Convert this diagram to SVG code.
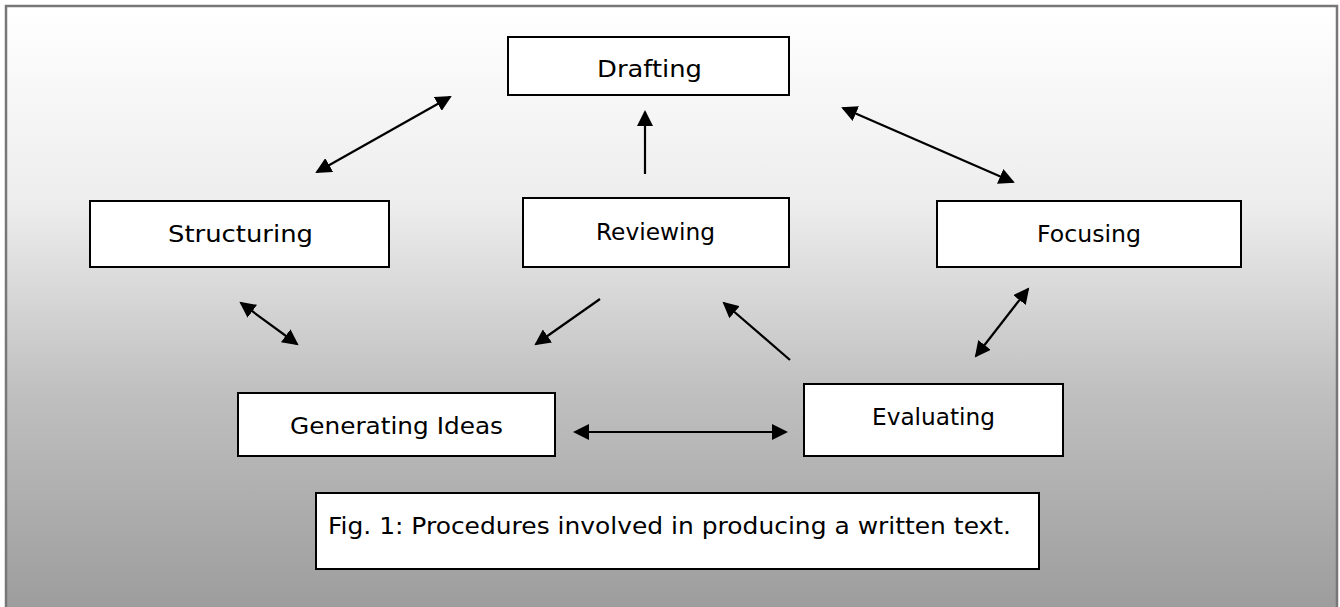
<svg xmlns="http://www.w3.org/2000/svg" width="1340" height="607" viewBox="0 0 1340 607">
  <defs>
    <linearGradient id="bg" x1="0" y1="0" x2="0" y2="1">
      <stop offset="0" stop-color="#ffffff"/>
      <stop offset="0.32" stop-color="#ededed"/>
      <stop offset="0.62" stop-color="#c0c0c0"/>
      <stop offset="1" stop-color="#9a9a9a"/>
    </linearGradient>
    <marker id="ah" markerUnits="userSpaceOnUse" markerWidth="18" markerHeight="16" refX="14" refY="8" orient="auto-start-reverse">
      <path d="M0,0 L16,8 L0,16 z" fill="#000"/>
    </marker>
    <style>
      .box { fill: #ffffff; stroke: #000000; stroke-width: 2; }
      .lbl { font-family: "Comic Sans MS", "DejaVu Sans", sans-serif; font-size: 23px; fill: #000000; }
      .con { stroke: #000000; stroke-width: 2.2; fill: none; }
    </style>
  </defs>

  <rect x="6" y="6" width="1331" height="620" fill="url(#bg)" stroke="#777777" stroke-width="2.5"/>

  <g id="connectors">
    <line class="con" x1="317" y1="172" x2="450" y2="97" marker-start="url(#ah)" marker-end="url(#ah)"/>
    <line class="con" x1="843" y1="108" x2="1013" y2="182" marker-start="url(#ah)" marker-end="url(#ah)"/>
    <line class="con" x1="645" y1="174" x2="645" y2="112" marker-end="url(#ah)"/>
    <line class="con" x1="241" y1="303" x2="297" y2="344" marker-start="url(#ah)" marker-end="url(#ah)"/>
    <line class="con" x1="600" y1="299" x2="536" y2="344" marker-end="url(#ah)"/>
    <line class="con" x1="790" y1="360" x2="724" y2="303" marker-end="url(#ah)"/>
    <line class="con" x1="1028" y1="289" x2="976" y2="356" marker-start="url(#ah)" marker-end="url(#ah)"/>
    <line class="con" x1="575" y1="432" x2="786" y2="432" marker-start="url(#ah)" marker-end="url(#ah)"/>
  </g>

  <g id="drafting">
    <rect class="box" x="508" y="37" width="281" height="58"/>
    <text class="lbl" x="597" y="77" textLength="105" lengthAdjust="spacingAndGlyphs">Drafting</text>
  </g>
  <g id="structuring">
    <rect class="box" x="90" y="201" width="299" height="66"/>
    <text class="lbl" x="168" y="242" textLength="145" lengthAdjust="spacingAndGlyphs">Structuring</text>
  </g>
  <g id="reviewing">
    <rect class="box" x="523" y="198" width="266" height="69"/>
    <text class="lbl" x="596" y="240" textLength="119" lengthAdjust="spacingAndGlyphs">Reviewing</text>
  </g>
  <g id="focusing">
    <rect class="box" x="937" y="201" width="304" height="66"/>
    <text class="lbl" x="1037" y="242" textLength="104" lengthAdjust="spacingAndGlyphs">Focusing</text>
  </g>
  <g id="generating">
    <rect class="box" x="238" y="393" width="317" height="63"/>
    <text class="lbl" x="290" y="434" textLength="213" lengthAdjust="spacingAndGlyphs">Generating Ideas</text>
  </g>
  <g id="evaluating">
    <rect class="box" x="804" y="384" width="259" height="72"/>
    <text class="lbl" x="872" y="425" textLength="123" lengthAdjust="spacingAndGlyphs">Evaluating</text>
  </g>
  <g id="caption">
    <rect class="box" x="316" y="493" width="723" height="76"/>
    <text class="lbl" x="328" y="534" textLength="683" lengthAdjust="spacingAndGlyphs">Fig. 1: Procedures involved in producing a written text.</text>
  </g>
</svg>
